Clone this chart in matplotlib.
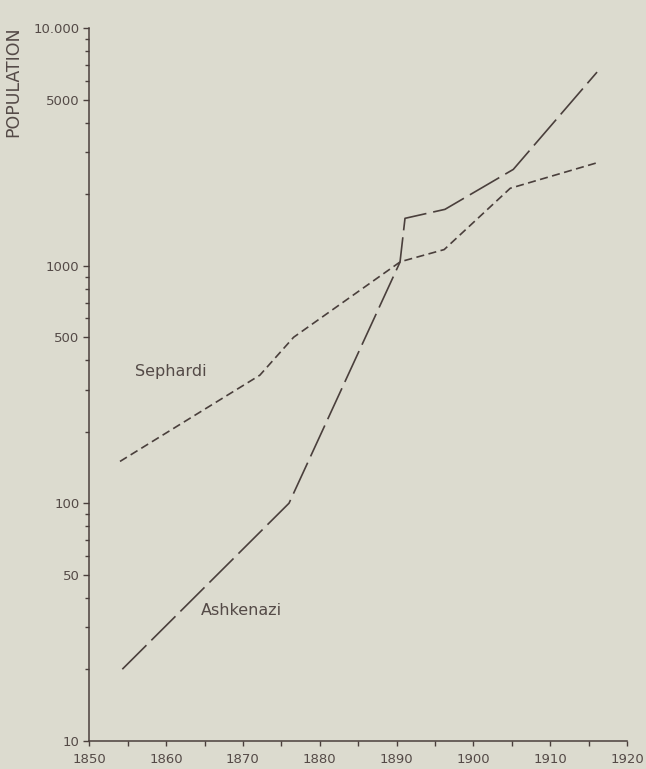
import matplotlib
matplotlib.use("Agg")
import matplotlib.pyplot as plt
from matplotlib.ticker import FixedLocator, FuncFormatter, MultipleLocator

# Population by year (log scale)
sephardi_years = [1854, 1872.2, 1876.6, 1890.5, 1896.2, 1904.8, 1916.1]
sephardi_pop = [150, 346, 500, 1040, 1170, 2120, 2715]

ashkenazi_years = [1854.3, 1876.0, 1890.45, 1891.1, 1896.3, 1905.2, 1916.1]
ashkenazi_pop = [20, 100, 1036, 1584, 1728, 2546, 6540]

x_ticks = [1850, 1860, 1870, 1880, 1890, 1900, 1910, 1920]
y_major = [10, 50, 100, 500, 1000, 5000, 10000]
y_labels = ["10", "50", "100", "500", "1000", "5000", "10.000"]

bg = "#dcdbcf"
ink = "#4a3f3c"
text_col = "#544a47"

plt.rcParams["lines.scale_dashes"] = False
plt.rcParams["font.family"] = ["DejaVu Sans"]

fig = plt.figure(figsize=(6.46, 7.69), dpi=100, facecolor=bg)
ax = fig.add_axes([0.1382, 0.0368, 0.8324, 0.9264], facecolor=bg)

ax.set_yscale("log")
ax.set_xlim(1850, 1920)
ax.set_ylim(10, 10000)

ax.plot(sephardi_years, sephardi_pop, color=ink, lw=1.2,
        dashes=(5.8, 3.2), dash_capstyle="butt", solid_joinstyle="miter")
ax.plot(ashkenazi_years, ashkenazi_pop, color=ink, lw=1.2,
        dashes=(24.5, 5.0), dash_capstyle="butt", solid_joinstyle="miter")

ax.text(1856.0, 360, "Sephardi", color=text_col, fontsize=11.5,
        ha="left", va="center")
ax.text(1864.5, 35.5, "Ashkenazi", color=text_col, fontsize=11.5,
        ha="left", va="center")

# axes styling
for side in ("top", "right"):
    ax.spines[side].set_visible(False)
for side in ("left", "bottom"):
    ax.spines[side].set_color(ink)
    ax.spines[side].set_linewidth(1.1)

ax.xaxis.set_major_locator(FixedLocator(x_ticks))
ax.xaxis.set_minor_locator(MultipleLocator(5))
ax.set_xticklabels([str(t) for t in x_ticks])

minor_y = [m * d for d in (10, 100, 1000) for m in range(2, 10)
           if m * d not in y_major]
ax.yaxis.set_major_locator(FixedLocator(y_major))
ax.yaxis.set_minor_locator(FixedLocator(minor_y))
ax.yaxis.set_major_formatter(FuncFormatter(
    lambda v, pos: y_labels[y_major.index(int(round(v)))] if int(round(v)) in y_major else ""))
ax.yaxis.set_minor_formatter(FuncFormatter(lambda v, pos: ""))

ax.tick_params(axis="both", which="both", colors=ink, labelcolor=text_col,
               labelsize=9.5, width=1.0, direction="out")
ax.tick_params(axis="x", which="major", length=3.5, pad=5)
ax.tick_params(axis="x", which="minor", length=3.5)
ax.tick_params(axis="y", which="major", length=4.0, pad=3)
ax.tick_params(axis="y", which="minor", length=3.0)

fig.text(13 / 646, 1 - 82 / 769, "POPULATION", rotation=90, color=text_col,
         fontsize=12.5, ha="center", va="center")

fig.savefig("out.png", dpi=100, facecolor=bg)
